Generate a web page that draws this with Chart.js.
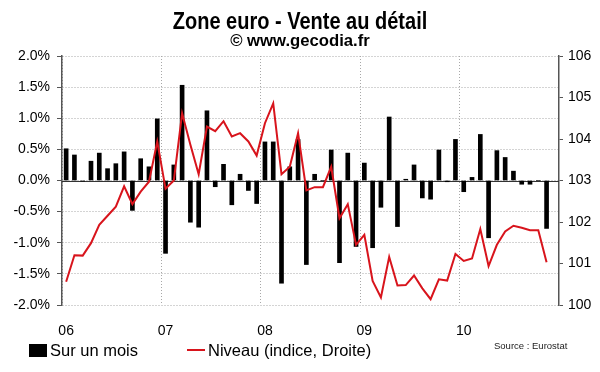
<!DOCTYPE html>
<html>
<head>
<meta charset="utf-8">
<script src="https://cdn.jsdelivr.net/npm/chart.js@4/dist/chart.umd.min.js"></script>
<style>
  body { margin: 0; background: #fff; font-family: "Liberation Sans", Arial, sans-serif; }
  #wrap { position: relative; width: 600px; height: 372px; }
  .t { position: absolute; left: 0; width: 600px; text-align: center; font-weight: bold; color: #000; line-height: 1; }
  .lg { position: absolute; font-size: 16.5px; color: #000; white-space: nowrap; line-height: 1; }
</style>
</head>
<body>
<div id="wrap">
  <canvas id="retailChart" width="600" height="372"></canvas>
  <div class="t" style="top:10.75px;font-size:20px;transform:scaleY(1.2);transform-origin:50% 9.75px;">Zone euro - Vente au détail</div>
  <div class="t" style="top:32.5px;font-size:16.7px;">© www.gecodia.fr</div>
  <div style="position:absolute;left:29px;top:344px;width:18px;height:13px;background:#000;"></div>
  <div class="lg" style="left:50px;top:342px;">Sur un mois</div>
  <div style="position:absolute;left:187px;top:349px;width:18px;height:2px;background:#d8141c;"></div>
  <div class="lg" style="left:208px;top:342px;">Niveau (indice, Droite)</div>
  <div class="lg" style="left:494px;top:340.5px;font-size:9.5px;color:#222;">Source : Eurostat</div>
</div>
<script>
const yearTicks = ['06', '07', '08', '09', '10'];

// one category per month, jan 2006 -> dec 2010
const months = [];
yearTicks.forEach(y => {
    for (let m = 1; m <= 12; m++) months.push((m < 10 ? '0' + m : '' + m) + '/' + y);
});

// variation sur un mois, %
const monthlyChange = [
    0.51, 0.41, -0.01, 0.31, 0.44, 0.19, 0.27, 0.46, -0.48, 0.35, 0.22, 0.99,
    -1.17, 0.25, 1.53, -0.67, -0.75, 1.12, -0.10, 0.26, -0.39, 0.10, -0.16, -0.37,
    0.62, 0.62, -1.65, 0.22, 0.66, -1.35, 0.10, 0.0, 0.49, -1.32, 0.44, -1.06,
    0.28, -1.08, -0.43, 1.02, -0.74, 0.02, 0.25, -0.28, -0.30, 0.49, -0.02, 0.66,
    -0.18, 0.05, 0.74, -0.92, 0.48, 0.37, 0.15, -0.06, -0.06, 0.0, -0.77
];

// niveau de l'indice (axe droit)
const indexLevel = [
    100.56, 101.20, 101.19, 101.49, 101.93, 102.15, 102.37, 102.86, 102.43, 102.73, 102.97, 103.94,
    102.80, 103.00, 104.62, 103.86, 103.15, 104.30, 104.19, 104.43, 104.06, 104.14, 103.94, 103.60,
    104.38, 104.86, 103.15, 103.33, 104.14, 102.76, 102.84, 102.84, 103.33, 102.09, 102.43, 101.45,
    101.69, 100.58, 100.18, 101.16, 100.47, 100.48, 100.71, 100.40, 100.14, 100.62, 100.59, 101.23,
    101.06, 101.12, 101.83, 100.94, 101.45, 101.77, 101.91, 101.86, 101.80, 101.80, 101.03
];

// solid line at 0 % under the bars
const zeroLine = {
    id: 'zeroLine',
    beforeDatasetsDraw(chart) {
        const { ctx, chartArea, scales } = chart;
        const y0 = Math.round(scales.y.getPixelForValue(0)) + 0.5;
        ctx.save();
        ctx.strokeStyle = '#333';
        ctx.lineWidth = 1;
        ctx.beginPath();
        ctx.moveTo(chartArea.left, y0);
        ctx.lineTo(chartArea.right, y0);
        ctx.stroke();
        ctx.restore();
    }
};

const font = { family: '"Liberation Sans", Arial, sans-serif', size: 14 };

new Chart(document.getElementById('retailChart').getContext('2d'), {
    type: 'bar',
    data: {
        labels: months,
        datasets: [
            {
                type: 'line',
                label: 'Niveau (indice, Droite)',
                data: indexLevel,
                yAxisID: 'y1',
                borderColor: '#d8141c',
                borderWidth: 2,
                pointRadius: 0,
                tension: 0,
                order: 0
            },
            {
                label: 'Sur un mois',
                data: monthlyChange,
                yAxisID: 'y',
                backgroundColor: '#000',
                barThickness: 4,
                order: 1
            }
        ]
    },
    options: {
        responsive: false,
        animation: false,
        layout: { padding: { top: 56, left: 0, right: 0, bottom: 0 } },
        plugins: { legend: { display: false }, tooltip: { enabled: false } },
        scales: {
            x: {
                afterFit: s => { s.height = 67; },
                grid: {
                    offset: true,
                    drawTicks: false,
                    color: c => (c.index % 12 === 0 ? '#a8a8a8' : 'rgba(0,0,0,0)')
                },
                border: { display: false, dash: [1, 2] },
                ticks: {
                    autoSkip: false,
                    maxRotation: 0,
                    padding: 18,
                    color: '#000',
                    font: font,
                    callback: (v, i) => (i % 12 === 0 ? yearTicks[i / 12] : '')
                }
            },
            y: {
                position: 'left',
                min: -2, max: 2,
                afterFit: s => { s.width = 62; },
                grid: { color: '#a8a8a8', tickColor: '#555', tickLength: 5 },
                border: { color: '#555', width: 1.5, dash: [1, 2] },
                ticks: {
                    stepSize: 0.5,
                    padding: 7,
                    color: '#000',
                    font: font,
                    callback: v => v.toFixed(1) + '%'
                }
            },
            y1: {
                position: 'right',
                min: 100, max: 106,
                afterFit: s => { s.width = 41; },
                grid: { drawOnChartArea: false, tickColor: '#555', tickLength: 4 },
                border: { color: '#555', width: 1.5 },
                ticks: { stepSize: 1, padding: 5, color: '#000', font: font }
            }
        }
    },
    plugins: [zeroLine]
});
</script>
</body>
</html>
